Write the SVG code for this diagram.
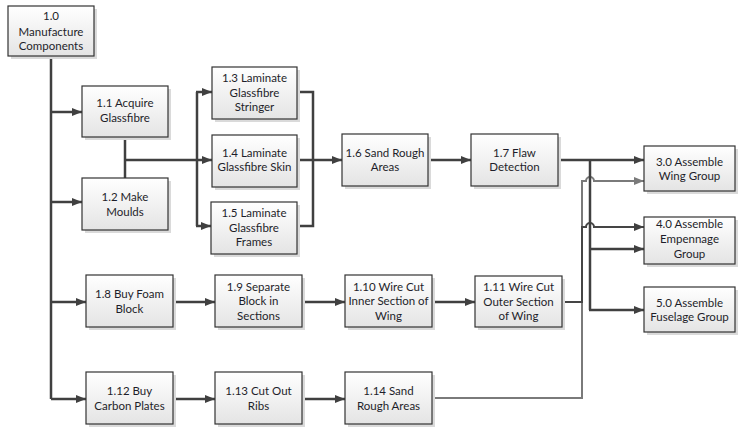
<svg xmlns="http://www.w3.org/2000/svg" width="743" height="442" viewBox="0 0 743 442">
<defs>
<linearGradient id="g" x1="0" y1="0" x2="0" y2="1">
<stop offset="0" stop-color="#ffffff"/>
<stop offset="1" stop-color="#e4e4e4"/>
</linearGradient>
<marker id="a" viewBox="0 0 10 8" refX="10" refY="4" markerWidth="10" markerHeight="8" markerUnits="userSpaceOnUse" orient="auto">
<path d="M0,0 L10,4 L0,8 z" fill="#404040"/>
</marker>
<marker id="ag" viewBox="0 0 10 8" refX="10" refY="4" markerWidth="10" markerHeight="8" markerUnits="userSpaceOnUse" orient="auto">
<path d="M0,0 L10,4 L0,8 z" fill="#7a7a7a"/>
</marker>
</defs>
<style>
.sh{fill:#dadada}
.bx{fill:url(#g);stroke:#333;stroke-width:1.2}
text{font-family:Lato,"Liberation Sans",sans-serif;font-size:11.5px;fill:#1e1e2a;text-anchor:middle}
.c{fill:none;stroke:#404040;stroke-width:2.5}
.ca{fill:none;stroke:#404040;stroke-width:2.5;marker-end:url(#a)}
.d{fill:none;stroke:#454545;stroke-width:2;marker-end:url(#a)}
.gl{fill:none;stroke:#7a7a7a;stroke-width:2;marker-end:url(#ag)}
</style>
<rect width="743" height="442" fill="#ffffff"/>
<g id="connectors">
<path class="gl" d="M432,398 H582 V181 H586 A4,4 0 0 1 594,181 H644"/>
<path class="d" d="M562,302 H582 V227 H586 A4,4 0 0 1 594,227 H644"/>
<path class="c" d="M51,56 V399"/>
<path class="ca" d="M51,112 H82"/>
<path class="ca" d="M51,202 H82"/>
<path class="ca" d="M51,302 H86"/>
<path class="ca" d="M51,399 H86"/>
<path class="c" d="M125,137 V178"/>
<path class="ca" d="M125,160 H212"/>
<path class="c" d="M197,92 V226"/>
<path class="ca" d="M196,92 H212"/>
<path class="ca" d="M196,226 H211"/>
<path class="c" d="M297,92 H313 V226 H297"/>
<path class="ca" d="M297,160 H342"/>
<path class="ca" d="M428,160 H471"/>
<path class="ca" d="M558,160 H644"/>
<path class="c" d="M590,160 V310"/>
<path class="ca" d="M589,310 H644"/>
<path class="ca" d="M590,249 H644"/>
<path class="ca" d="M173,302 H215"/>
<path class="ca" d="M302,302 H345"/>
<path class="ca" d="M432,302 H475"/>
<path class="ca" d="M173,399 H215"/>
<path class="ca" d="M302,399 H345"/>
</g>
<g id="n1_0"><rect class="sh" x="11" y="9" width="86" height="50"/><rect class="bx" x="8" y="6" width="86" height="50"/><text x="51" y="20">1.0</text><text x="51" y="36">Manufacture</text><text x="51" y="50">Components</text></g>
<g id="n1_1"><rect class="sh" x="85" y="89" width="86" height="51"/><rect class="bx" x="82" y="86" width="86" height="51"/><text x="125" y="107">1.1 Acquire</text><text x="125" y="122">Glassfibre</text></g>
<g id="n1_2"><rect class="sh" x="85" y="181" width="86" height="52"/><rect class="bx" x="82" y="178" width="86" height="52"/><text x="125" y="201">1.2 Make</text><text x="125" y="216">Moulds</text></g>
<g id="n1_3"><rect class="sh" x="215" y="70" width="85" height="52"/><rect class="bx" x="212" y="67" width="85" height="52"/><text x="254.5" y="82">1.3 Laminate</text><text x="254.5" y="97">Glassfibre</text><text x="254.5" y="111">Stringer</text></g>
<g id="n1_4"><rect class="sh" x="215" y="138" width="85" height="52"/><rect class="bx" x="212" y="135" width="85" height="52"/><text x="254.5" y="157">1.4 Laminate</text><text x="254.5" y="171">Glassfibre Skin</text></g>
<g id="n1_5"><rect class="sh" x="214" y="205" width="86" height="52"/><rect class="bx" x="211" y="202" width="86" height="52"/><text x="254" y="217">1.5 Laminate</text><text x="254" y="232">Glassfibre</text><text x="254" y="246">Frames</text></g>
<g id="n1_6"><rect class="sh" x="345" y="137" width="86" height="52"/><rect class="bx" x="342" y="134" width="86" height="52"/><text x="385" y="157">1.6 Sand Rough</text><text x="385" y="171">Areas</text></g>
<g id="n1_7"><rect class="sh" x="474" y="137" width="87" height="52"/><rect class="bx" x="471" y="134" width="87" height="52"/><text x="514.5" y="157">1.7 Flaw</text><text x="514.5" y="171">Detection</text></g>
<g id="n3_0"><rect class="sh" x="647" y="149" width="91" height="45"/><rect class="bx" x="644" y="146" width="91" height="45"/><text x="689.5" y="166">3.0 Assemble</text><text x="689.5" y="180">Wing Group</text></g>
<g id="n4_0"><rect class="sh" x="647" y="220" width="91" height="47"/><rect class="bx" x="644" y="217" width="91" height="47"/><text x="689.5" y="228">4.0 Assemble</text><text x="689.5" y="243">Empennage</text><text x="689.5" y="258">Group</text></g>
<g id="n5_0"><rect class="sh" x="647" y="290" width="91" height="45"/><rect class="bx" x="644" y="287" width="91" height="45"/><text x="689.5" y="307">5.0 Assemble</text><text x="689.5" y="321">Fuselage Group</text></g>
<g id="n1_8"><rect class="sh" x="89" y="278" width="87" height="52"/><rect class="bx" x="86" y="275" width="87" height="52"/><text x="129.5" y="298">1.8 Buy Foam</text><text x="129.5" y="313">Block</text></g>
<g id="n1_9"><rect class="sh" x="218" y="278" width="87" height="52"/><rect class="bx" x="215" y="275" width="87" height="52"/><text x="258.5" y="291">1.9 Separate</text><text x="258.5" y="305">Block in</text><text x="258.5" y="320">Sections</text></g>
<g id="n1_10"><rect class="sh" x="348" y="278" width="87" height="52"/><rect class="bx" x="345" y="275" width="87" height="52"/><text x="388.5" y="291">1.10 Wire Cut</text><text x="388.5" y="305">Inner Section of</text><text x="388.5" y="320">Wing</text></g>
<g id="n1_11"><rect class="sh" x="478" y="279" width="87" height="51"/><rect class="bx" x="475" y="276" width="87" height="51"/><text x="518.5" y="291">1.11 Wire Cut</text><text x="518.5" y="306">Outer Section</text><text x="518.5" y="320">of Wing</text></g>
<g id="n1_12"><rect class="sh" x="89" y="375" width="87" height="52"/><rect class="bx" x="86" y="372" width="87" height="52"/><text x="129.5" y="395">1.12 Buy</text><text x="129.5" y="410">Carbon Plates</text></g>
<g id="n1_13"><rect class="sh" x="218" y="375" width="87" height="52"/><rect class="bx" x="215" y="372" width="87" height="52"/><text x="258.5" y="395">1.13 Cut Out</text><text x="258.5" y="410">Ribs</text></g>
<g id="n1_14"><rect class="sh" x="348" y="375" width="87" height="52"/><rect class="bx" x="345" y="372" width="87" height="52"/><text x="388.5" y="395">1.14 Sand</text><text x="388.5" y="410">Rough Areas</text></g>
</svg>
